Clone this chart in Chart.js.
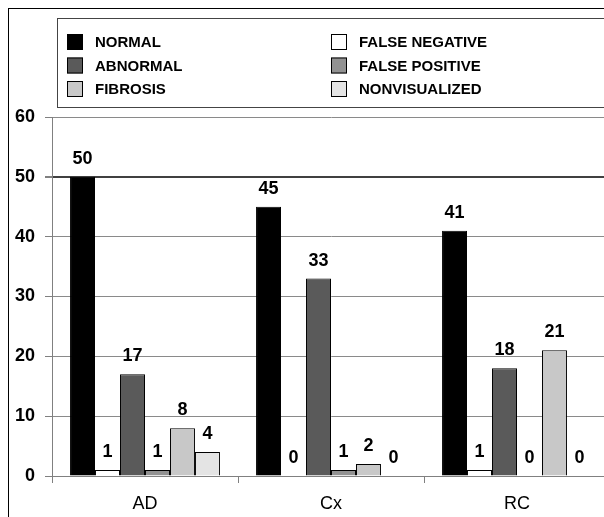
<!DOCTYPE html>
<html><head><meta charset="utf-8">
<script src="https://cdn.jsdelivr.net/npm/chart.js@4/dist/chart.umd.min.js"></script>
<style>
html,body{margin:0;padding:0;background:#fff;overflow:hidden;}
#wrap{position:relative;width:604px;height:517px;overflow:hidden;background:#fff;}
canvas{position:absolute;left:0;top:0;}
</style></head><body>
<div id="wrap"><canvas id="c" width="640" height="517" style="width:640px;height:517px"></canvas></div>
<script>
// ---- data ----
const categories = ['AD', 'Cx', 'RC'];
const normal = [50, 45, 41];
const falseNegative = [1, 0, 1];
const abnormal = [17, 33, 18];
const falsePositive = [1, 1, 0];
const fibrosis = [8, 2, 21];
const nonvisualized = [4, 0, 0];
const yTicks = [0, 10, 20, 30, 40, 50, 60];

const FONT = '"Liberation Sans", Arial, Helvetica, sans-serif';

const datasets = [
  { label: 'NORMAL', data: normal, backgroundColor: '#000000' },
  { label: 'FALSE NEGATIVE', data: falseNegative, backgroundColor: '#ffffff' },
  { label: 'ABNORMAL', data: abnormal, backgroundColor: '#5a5a5a' },
  { label: 'FALSE POSITIVE', data: falsePositive, backgroundColor: '#929292' },
  { label: 'FIBROSIS', data: fibrosis, backgroundColor: '#c8c8c8' },
  { label: 'NONVISUALIZED', data: nonvisualized, backgroundColor: '#e4e4e4' }
].map(d => Object.assign(d, {
  borderColor: '#000000', borderWidth: 1, borderSkipped: 'bottom',
  categoryPercentage: 0.806, barPercentage: 1.0
}));

const framePlugin = {
  id: 'frame',
  beforeDraw(chart) {
    const ctx = chart.ctx;
    ctx.save();
    ctx.fillStyle = '#fff';
    ctx.fillRect(0, 0, chart.width, chart.height);
    ctx.strokeStyle = '#000';
    ctx.lineWidth = 1;
    ctx.strokeRect(8.5, 8.5, 800, 700);
    ctx.strokeStyle = '#444';
    ctx.strokeRect(57.5, 18.5, 700, 89);
    ctx.restore();
  },
  afterDraw(chart) {
    const ctx = chart.ctx;
    ctx.save();
    ctx.font = 'bold 15px ' + FONT;
    ctx.textBaseline = 'middle';
    ctx.textAlign = 'left';
    chart.data.datasets.forEach((ds, i) => {
      const col = i % 2, row = Math.floor(i / 2);
      const sx = col ? 331 : 67;
      const sy = 34 + row * 23.5;
      ctx.fillStyle = ds.backgroundColor;
      ctx.fillRect(sx, sy, 16, 16);
      ctx.strokeStyle = '#000';
      ctx.lineWidth = 1;
      ctx.strokeRect(sx + 0.5, sy + 0.5, 15, 15);
      ctx.fillStyle = '#000';
      ctx.fillText(ds.label, sx + 28, sy + 9);
    });
    ctx.restore();
  },
  afterDatasetsDraw(chart) {
    const ctx = chart.ctx;
    ctx.save();
    ctx.font = 'bold 18px ' + FONT;
    ctx.fillStyle = '#000';
    ctx.textAlign = 'center';
    ctx.textBaseline = 'alphabetic';
    chart.data.datasets.forEach((ds, i) => {
      const meta = chart.getDatasetMeta(i);
      meta.data.forEach((bar, j) => {
        ctx.fillText(String(ds.data[j]), bar.x, bar.y - 13);
      });
    });
    ctx.restore();
  }
};

new Chart(document.getElementById('c'), {
  type: 'bar',
  data: { labels: categories, datasets },
  options: {
    responsive: false,
    animation: false,
    devicePixelRatio: 1,
    layout: { padding: { left: 0, right: 30, top: 117, bottom: 0 } },
    plugins: { legend: { display: false }, tooltip: { enabled: false } },
    scales: {
      x: {
        offset: true,
        grid: { offset: true, drawOnChartArea: false, drawTicks: true, tickLength: 7, color: '#808080' },
        border: { display: true, color: '#808080' },
        ticks: { color: '#000', font: { family: FONT, size: 18 }, padding: 10 },
        afterFit(s) { s.height = 41; }
      },
      y: {
        min: 0, max: 60,
        afterBuildTicks(s) { s.ticks = yTicks.map(v => ({ value: v })); },
        grid: {
          color: c => (c.tick && c.tick.value === 50) ? '#404040' : '#8a8a8a',
          lineWidth: c => (c.tick && c.tick.value === 50) ? 2 : 1,
          tickLength: 7,
          tickColor: '#808080'
        },
        border: { display: true, color: '#808080' },
        ticks: { color: '#000', font: { family: FONT, size: 18, weight: 'bold' }, padding: 10 },
        afterFit(s) { s.width = 52; }
      }
    }
  },
  plugins: [framePlugin]
});
</script>
</body></html>
